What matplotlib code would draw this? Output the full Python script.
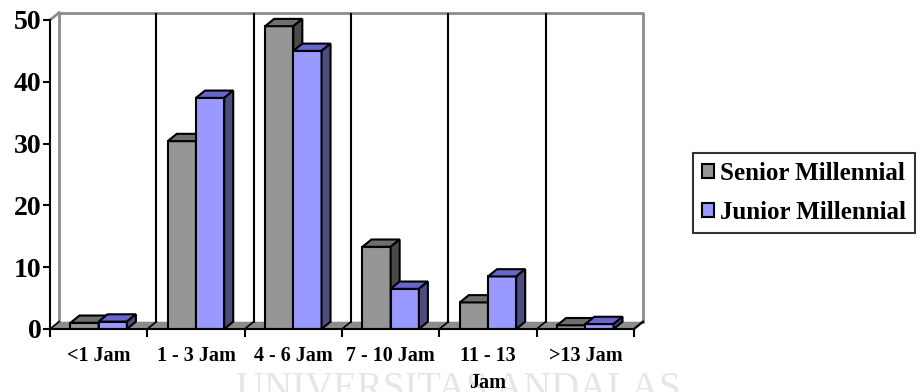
import matplotlib
matplotlib.use('Agg')
import matplotlib.pyplot as plt
from matplotlib.patches import Polygon
import numpy as np

plt.rcParams['font.family'] = ['Liberation Serif', 'DejaVu Serif']
plt.rcParams['font.weight'] = 'bold'

categories = ['<1 Jam', '1 - 3 Jam', '4 - 6 Jam', '7 - 10 Jam', '11 - 13\nJam', '>13 Jam']
senior = [1.0, 30.4, 49.0, 13.3, 4.3, 0.6]
junior = [1.2, 37.4, 45.0, 6.5, 8.5, 0.8]
series = [('Senior Millennial', senior, '#969696', '#6e6e6e', '#4a4a4a'),
          ('Junior Millennial', junior, '#9999ff', '#6666cc', '#4c4c80')]

W, H = 917, 392
fig = plt.figure(figsize=(W / 100, H / 100), dpi=100)

# pixel geometry of the plot (front axes)
cat_px = 97.33
x0_px, y0_px, y50_px = 50, 329, 20
ppu = (y0_px - y50_px) / 50.0
dx_px, dy_px = 9, 7.3
dx = dx_px / cat_px
dy = dy_px / ppu
ax_w = 6 * cat_px + dx_px
ax_h = (y0_px - y50_px) + dy_px
ax = fig.add_axes([x0_px / W, (H - y0_px) / H, ax_w / W, ax_h / H])
ax.set_xlim(-0.5, 5.5 + dx)
ax.set_ylim(0, 50 + dy)
ax.patch.set_visible(False)

# faint watermark at the bottom
fig.text(0.5, -0.04, 'UNIVERSITAS ANDALAS', ha='center', va='bottom', fontsize=28,
         color='#e6e6e6', fontweight='normal', zorder=-5)

# back wall + floor
wall_c = '#8c8c8c'
ax.plot([-0.5 + dx, -0.5 + dx, 5.5 + dx, 5.5 + dx], [dy, 50 + dy, 50 + dy, dy],
        color=wall_c, lw=2, zorder=0, clip_on=False)
ax.plot([-0.5, -0.5 + dx], [50, 50 + dy], color=wall_c, lw=2, zorder=0, clip_on=False)
ax.add_patch(Polygon([(-0.5, 0), (5.5, 0), (5.5 + dx, dy), (-0.5 + dx, dy)],
                     closed=True, facecolor='#8c8c8c', edgecolor='none', zorder=1, clip_on=False))
ax.plot([5.5, 5.5 + dx], [0, dy], color='black', lw=1.5, zorder=1, clip_on=False)
for b in np.arange(0.5, 5.0, 1.0):
    ax.plot([b + dx, b + dx], [dy, 50 + dy], color='black', lw=1.5, zorder=1)
for b in np.arange(-0.5, 6.0, 1.0):
    ax.plot([b, b + dx], [0, dy], color='black', lw=1.2, zorder=1.5, clip_on=False)

# 3D bars
bw = 0.29
xs = np.arange(len(categories))
for i, (name, vals, fc, tc, sc) in enumerate(series):
    left = xs - bw + i * bw
    ax.bar(left, vals, width=bw, align='edge', color=fc, edgecolor='black', lw=1.5,
           zorder=3 + i, label=name)
    for l, v in zip(left, vals):
        r = l + bw
        ax.add_patch(Polygon([(l, v), (r, v), (r + dx, v + dy), (l + dx, v + dy)], closed=True,
                             facecolor=tc, edgecolor='black', lw=1.5, zorder=3 + i))
        ax.add_patch(Polygon([(r, 0), (r + dx, dy), (r + dx, v + dy), (r, v)], closed=True,
                             facecolor=sc, edgecolor='black', lw=1.5, zorder=3 + i))

# axes
for s in ['top', 'right']:
    ax.spines[s].set_visible(False)
ax.spines['left'].set_bounds(0, 50)
ax.spines['bottom'].set_bounds(-0.5, 5.5)
for s in ['left', 'bottom']:
    ax.spines[s].set_linewidth(1.5)
    ax.spines[s].set_zorder(6)
ax.set_yticks(range(0, 51, 10))
ax.tick_params(axis='y', length=5, width=1.5, labelsize=20, pad=1)
ax.set_xticks(xs)
ax.set_xticklabels(categories, linespacing=1.5)
ax.set_xticks(np.arange(-0.5, 6.0, 1.0), minor=True)
ax.tick_params(axis='x', which='major', length=0, labelsize=14.5, pad=12)
ax.tick_params(axis='x', which='minor', length=6, width=1.5)
for lab in ax.get_xticklabels() + ax.get_yticklabels():
    lab.set_fontweight('bold')

leg = fig.legend(loc='upper left', bbox_to_anchor=(693 / W, 1 - 153 / H), fontsize=18,
                 frameon=True, fancybox=False, edgecolor='black', handlelength=0.5,
                 handleheight=0.5, handletextpad=0.25, borderpad=0.35, labelspacing=0.65,
                 borderaxespad=0)
leg.get_frame().set_linewidth(1.5)
for t in leg.get_texts():
    t.set_fontweight('bold')

fig.savefig('out.png', dpi=100)
